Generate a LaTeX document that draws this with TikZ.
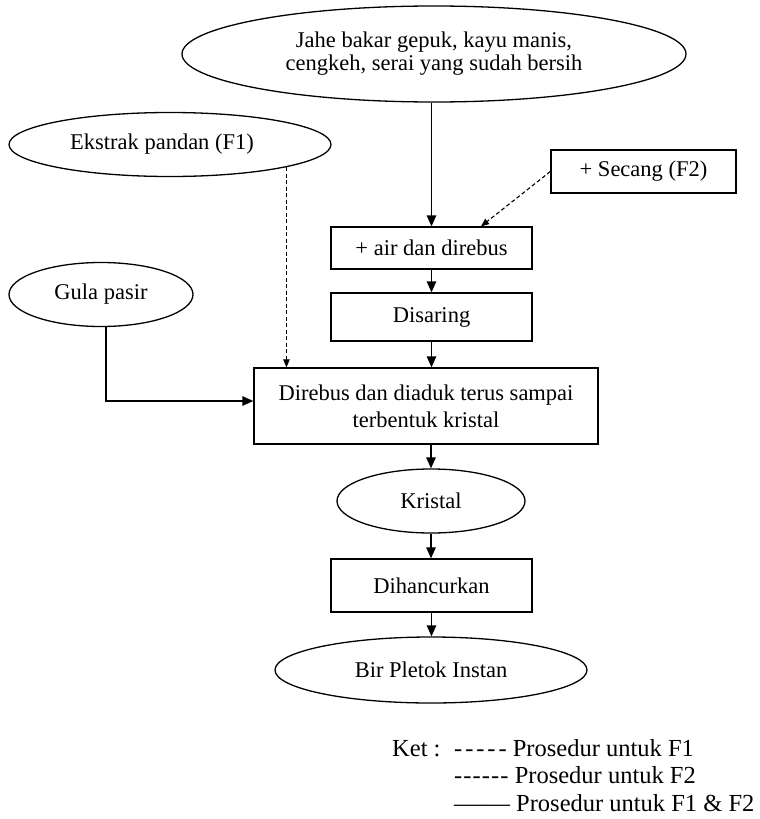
\documentclass[tikz,border=0pt]{standalone}
\usepackage{fontspec}
\setmainfont{Liberation Serif}[Ligatures=TeXOff]
\usetikzlibrary{shapes.geometric,arrows.meta}
\begin{document}
\begin{tikzpicture}[x=1pt,y=-1pt,
  every node/.style={font=\fontsize{22.5}{23}\selectfont, inner sep=0pt},
  oval/.style={draw, ellipse, line width=1.3pt},
  box/.style={draw, rectangle, line width=1.3pt},
  flow/.style={line width=1.3pt, -{Triangle[length=11pt,width=9.5pt]}},
  opt/.style={line width=1.1pt, dash pattern=on 4pt off 2.5pt, -{Triangle[length=8pt,width=6.5pt]}},
  legend/.style={anchor=base west, font=\fontsize{24.5}{25}\selectfont}]
\useasboundingbox (0,0) rectangle (760,819);

\node[oval, minimum width=504pt, minimum height=96pt, align=center] (bahan) at (434,54) {Jahe bakar gepuk, kayu manis,\\cengkeh, serai yang sudah bersih};
\node[oval, minimum width=322pt, minimum height=64pt] (pandan) at (170,144.5) {Ekstrak pandan (F1)\hspace*{16pt}};
\node[box, minimum width=185pt, minimum height=43pt] (secang) at (643.5,171.5) {+ Secang (F2)};
\node[box, minimum width=201pt, minimum height=42pt] (air) at (431.5,248) {+ air dan direbus};
\node[oval, minimum width=184pt, minimum height=64pt] (gula) at (101,294.5) {Gula pasir};
\node[box, minimum width=201pt, minimum height=48pt] (saring) at (431.5,317) {Disaring};
\node[box, minimum width=344pt, minimum height=76pt, align=center, font=\fontsize{22.5}{27}\selectfont] (rebus) at (426,406) {Direbus dan diaduk terus sampai\\terbentuk kristal};
\node[oval, minimum width=188pt, minimum height=64pt] (kristal) at (431,501) {Kristal};
\node[box, minimum width=201pt, minimum height=53pt] (hancur) at (431.5,585.5) {Dihancurkan};
\node[oval, minimum width=312pt, minimum height=66pt] (bir) at (431,670) {Bir Pletok Instan};

\draw[flow] (air.north |- bahan.south) -- (air.north);
\draw[flow] (air) -- (saring);
\draw[flow] (saring.south) -- (saring.south |- rebus.north);
\draw[flow] (kristal.north |- rebus.south) -- (kristal.north);
\draw[flow] (kristal.south) -- (kristal.south |- hancur.north);
\draw[flow] (hancur.south) -- (hancur.south |- bir.north);
\draw[flow] ([xshift=5pt]gula.south) |- ([yshift=5pt]rebus.west);
\draw[opt] (pandan.-11) -- (pandan.-11 |- rebus.north);
\draw[opt] (secang.west) -- ([xshift=49.5pt]air.north);

\node[legend] (ket) at (392,756) {Ket :};
\node[legend] (l1) at (454,756) {{\addfontfeature{LetterSpace=12}-----}\ Prosedur untuk F1};
\node[legend] (l2) at (454,783) {{\addfontfeature{LetterSpace=4.5}------}\ Prosedur untuk F2};
\node[legend] (l3) at (454,811) {\scalebox{1.14}[1]{——}\ Prosedur untuk F1 \& F2};
\end{tikzpicture}
\end{document}
